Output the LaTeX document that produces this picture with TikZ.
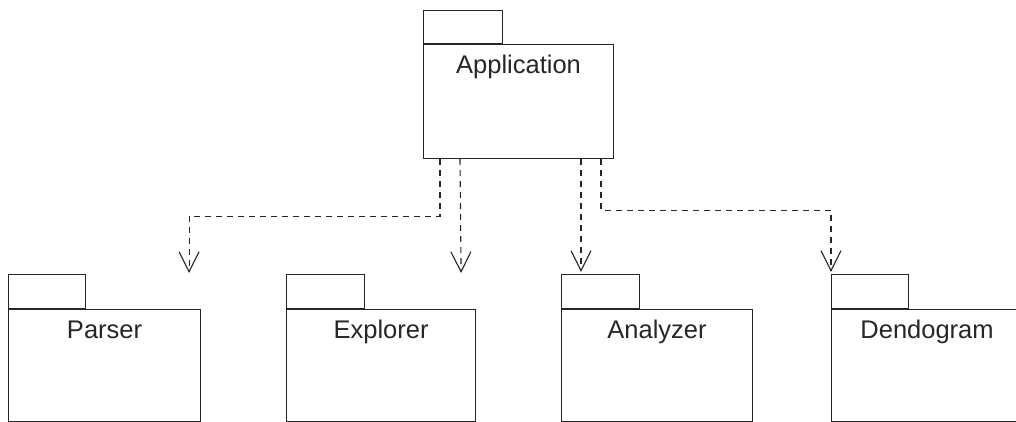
\documentclass[tikz,border=0pt]{standalone}
\usepackage{fontspec}
\setmainfont{Liberation Sans}
\usetikzlibrary{arrows.meta,calc}
\begin{document}
\begin{tikzpicture}[x=1pt,y=-1pt,
  outline/.style={draw=black!85, line width=1.1pt},
  pkgbody/.style={outline, rectangle, inner sep=0pt, anchor=north west,
    minimum width=#1, minimum height=112pt},
  pkgtab/.style={outline, rectangle, inner sep=0pt, anchor=south west,
    minimum width=#1, minimum height=34pt},
  pkgname/.style={anchor=base, inner sep=0pt, font=\fontsize{25.5}{30}\selectfont, text=black!85},
  dep/.style={draw=black!85, line width=1.1pt, dash pattern=on 6pt off 5pt,
    -{Straight Barb[length=20pt, width=20pt, line width=1.1pt]}}
]
\useasboundingbox (0,0) rectangle (1016,422);
\clip (0,0) rectangle (1016,422);

% top-level package
\node[pkgbody=190pt, minimum height=114pt] (app) at (423,44) {};
\node[pkgtab=79pt, minimum height=33pt] (apptab) at (app.north west) {};
\node[pkgname] (appname) at ($(app.north)+(0,30)$) {Application};

% sub-packages
\node[pkgbody=192pt] (parser) at (8,309) {};
\node[pkgtab=77pt] (parsertab) at (parser.north west) {};
\node[pkgname] (parsername) at ($(parser.north)+(0,29)$) {Parser};

\node[pkgbody=189pt] (explorer) at (286,309) {};
\node[pkgtab=78pt] (explorertab) at (explorer.north west) {};
\node[pkgname] (explorername) at ($(explorer.north)+(0,29)$) {Explorer};

\node[pkgbody=191pt] (analyzer) at (561,309) {};
\node[pkgtab=78pt] (analyzertab) at (analyzer.north west) {};
\node[pkgname] (analyzername) at ($(analyzer.north)+(0,29)$) {Analyzer};

\node[pkgbody=191pt] (dendo) at (831,309) {};
\node[pkgtab=77pt] (dendotab) at (dendo.north west) {};
\node[pkgname] (dendoname) at ($(dendo.north)+(0,29)$) {Dendogram};

% free ends of the dependencies that stop above the packages
\coordinate (parserend) at ($(parser.north east)+(-12,-36)$);
\coordinate (explorerend) at ($(explorer.north east)+(-15,-36)$);

% dependencies
\draw[dep] ([xshift=17pt]app.south west) -- ++(0,57) -| (parserend);
\draw[dep] ([xshift=37pt]app.south west) -- (explorerend);
\draw[dep, shorten >=2pt] ([xshift=158pt]app.south west) -- ([xshift=20pt]analyzertab.north west);
\draw[dep, shorten >=2pt] ([xshift=178pt]app.south west) -- ++(0,51) -| (dendotab.north west);
\end{tikzpicture}
\end{document}
